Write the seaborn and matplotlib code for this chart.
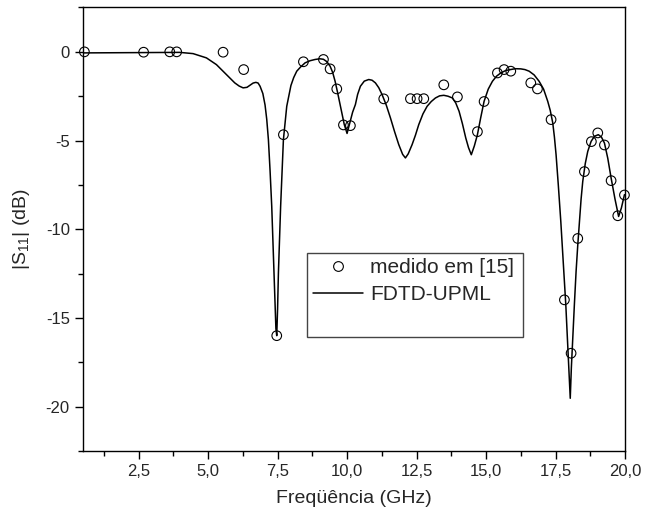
import numpy as np
import pandas as pd
import seaborn as sns
import matplotlib.pyplot as plt
from matplotlib.ticker import MultipleLocator, FuncFormatter
from matplotlib.lines import Line2D

# dados
freq_med = [0.55, 2.68, 3.62, 3.87, 5.54, 6.28, 7.47, 7.71, 8.43, 9.15, 9.39, 9.63,
            9.87, 10.12, 11.32, 12.28, 12.52, 12.76, 13.48, 13.97, 14.69, 14.93,
            15.41, 15.65, 15.89, 16.61, 16.85, 17.34, 17.82, 18.06, 18.30, 18.54,
            18.79, 19.02, 19.26, 19.50, 19.74, 19.98]
s11_med = [0.0, -0.02, 0.0, 0.0, -0.02, -1.0, -16.0, -4.67, -0.56, -0.43, -0.96, -2.09,
           -4.12, -4.16, -2.65, -2.64, -2.64, -2.64, -1.86, -2.54, -4.5, -2.8,
           -1.19, -1.0, -1.09, -1.75, -2.09, -3.82, -13.98, -16.99, -10.52, -6.75,
           -5.06, -4.57, -5.25, -7.26, -9.24, -8.07]

freq_fdtd = [0.50, 1.5, 2.5, 3.5, 3.98, 4.46, 4.94, 5.30, 5.66, 5.96, 6.12, 6.26, 6.40,
             6.51, 6.62, 6.72, 6.80, 6.87, 6.97, 7.05, 7.11, 7.17, 7.23, 7.29, 7.37,
             7.44, 7.47, 7.50, 7.53, 7.61, 7.71, 7.83, 7.98, 8.08, 8.19, 8.33, 8.49,
             8.67, 8.85, 9.02, 9.15, 9.27, 9.39, 9.48, 9.57, 9.66, 9.75, 9.90, 10.00,
             10.10, 10.20, 10.30, 10.38, 10.48, 10.62, 10.78, 10.90, 11.02, 11.14,
             11.26, 11.41, 11.56, 11.71, 11.86, 12.00, 12.10, 12.20, 12.34, 12.46,
             12.58, 12.73, 12.88, 13.03, 13.18, 13.33, 13.48, 13.63, 13.79, 13.91,
             14.03, 14.15, 14.27, 14.37, 14.47, 14.58, 14.69, 14.81, 14.93, 15.08,
             15.23, 15.38, 15.53, 15.71, 15.89, 16.05, 16.25, 16.40, 16.55, 16.73,
             16.91, 17.07, 17.22, 17.31, 17.40, 17.46, 17.52, 17.60, 17.69, 17.78,
             17.87, 17.93, 17.99, 18.03, 18.07, 18.12, 18.18, 18.24, 18.30, 18.36,
             18.42, 18.48, 18.57, 18.66, 18.78, 18.90, 19.04, 19.15, 19.26, 19.38,
             19.50, 19.64, 19.77, 19.87, 19.98]
s11_fdtd = [-0.06, -0.05, -0.04, -0.03, -0.03, -0.10, -0.34, -0.72, -1.28, -1.75, -1.93,
            -2.03, -2.00, -1.88, -1.76, -1.72, -1.76, -1.94, -2.35, -3.00, -3.80,
            -4.95, -6.70, -8.71, -12.47, -15.6, -16.0, -14.5, -12.47, -8.71, -4.95,
            -3.07, -1.90, -1.45, -1.09, -0.85, -0.62, -0.50, -0.43, -0.39, -0.42,
            -0.55, -0.81, -1.15, -1.66, -2.30, -2.97, -4.10, -4.60, -4.00, -3.40,
            -2.97, -2.40, -1.94, -1.65, -1.56, -1.60, -1.75, -2.02, -2.41, -3.00,
            -3.72, -4.50, -5.23, -5.78, -5.98, -5.75, -5.23, -4.70, -4.10, -3.50,
            -3.07, -2.80, -2.60, -2.48, -2.45, -2.50, -2.60, -2.88, -3.35, -4.05,
            -4.85, -5.40, -5.80, -5.30, -4.67, -3.70, -2.79, -2.10, -1.66, -1.37,
            -1.19, -1.05, -1.00, -0.95, -0.96, -1.00, -1.09, -1.30, -1.66, -2.10,
            -2.79, -3.30, -4.00, -4.80, -5.80, -7.50, -9.56, -11.90, -14.26, -16.20,
            -18.02, -19.53, -17.80, -16.14, -14.20, -12.38, -10.90, -9.56, -8.30,
            -7.30, -6.30, -5.61, -5.05, -4.76, -4.67, -4.80, -5.14, -6.00, -7.11,
            -8.30, -9.28, -8.80, -8.05]

sns.set_style('ticks')
plt.rcParams['font.family'] = ['Liberation Sans', 'DejaVu Sans']
plt.rcParams['mathtext.fontset'] = 'custom'
plt.rcParams['mathtext.rm'] = 'Liberation Sans'
plt.rcParams['mathtext.it'] = 'Liberation Sans:italic'
plt.rcParams['axes.unicode_minus'] = False

fig = plt.figure(figsize=(6.45, 5.17), dpi=100)
ax = fig.add_axes([0.1287, 0.1277, 0.8403, 0.8578])

sns.lineplot(x=freq_fdtd, y=s11_fdtd, color='black', linewidth=1.1,
             estimator=None, sort=False, ax=ax)
sns.scatterplot(x=freq_med, y=s11_med, marker='o', s=48, color='black',
                linewidth=0.8, ax=ax, zorder=3, clip_on=False)
ax.collections[-1].set_facecolor('none')
ax.collections[-1].set_edgecolor('black')

ax.set_xlim(0.5, 20)
ax.set_ylim(-22.5, 2.5)
ax.xaxis.set_major_locator(MultipleLocator(2.5))
ax.xaxis.set_minor_locator(MultipleLocator(1.25))
ax.yaxis.set_major_locator(MultipleLocator(5))
ax.yaxis.set_minor_locator(MultipleLocator(2.5))
ax.xaxis.set_major_formatter(FuncFormatter(lambda v, p: f'{v:.1f}'.replace('.', ',')))
ax.yaxis.set_major_formatter(FuncFormatter(lambda v, p: f'{v:.0f}'))
ax.tick_params(which='major', direction='out', length=6, width=1, labelsize=12,
               top=False, right=False, color='black')
ax.tick_params(which='minor', direction='out', length=3.5, width=1,
               top=False, right=False, color='black')
for sp in ax.spines.values():
    sp.set_visible(True)
    sp.set_color('black')
    sp.set_linewidth(1)

ax.set_xlabel('Freqüência (GHz)', fontsize=14, labelpad=8)
ax.set_ylabel('|S$_{11}$| (dB)', fontsize=14, labelpad=10)

handles = [Line2D([], [], marker='o', linestyle='none', markerfacecolor='none',
                  markeredgecolor='black', markersize=7, markeredgewidth=0.8),
           Line2D([], [], color='black', linewidth=1.1),
           Line2D([], [], linestyle='none')]
labels = ['medido em [15]', 'FDTD-UPML', ' ']
leg = ax.legend(handles, labels, loc='upper left',
                bbox_to_anchor=(0.414, 0.256, 0.398, 0.191), mode='expand',
                fontsize=15, frameon=True, fancybox=False, framealpha=1,
                edgecolor='#444444', borderpad=0.25, labelspacing=0.4,
                handlelength=2.4, handletextpad=0.35, borderaxespad=0)
leg.get_frame().set_linewidth(1)

plt.savefig('out.png', dpi=100)
